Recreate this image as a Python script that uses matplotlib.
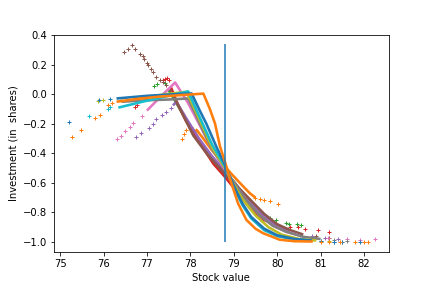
import matplotlib
matplotlib.use("Agg")
import matplotlib.pyplot as plt

# ---------------------------------------------------------------------------
# values, one small set of lists per series
# *_line  = dense part of the curve (looks like a thick line)
# *_dots  = the sparse scattered points on the tails
# ---------------------------------------------------------------------------

# orange, second series (bump at 78 then flattening near -0.72)
orange2_dots_x = [77.80, 77.85, 77.91, 77.99, 78.07, 78.14, 79.50, 79.60, 79.70, 79.83, 80.02]
orange2_dots_y = [-0.30, -0.27, -0.24, -0.23, -0.235, -0.24, -0.70, -0.71, -0.715, -0.72, -0.74]
orange2_line_x = [78.14, 78.30, 78.50, 78.68, 78.80, 78.95, 79.14, 79.37, 79.50]
orange2_line_y = [-0.24, -0.30, -0.38, -0.445, -0.49, -0.54, -0.60, -0.67, -0.70]

# green
green_dots_x = [77.17, 77.24, 77.42, 79.67, 79.83, 79.98, 80.20, 80.28, 80.45, 80.55]
green_dots_y = [0.055, 0.07, 0.08, -0.83, -0.84, -0.85, -0.87, -0.875, -0.88, -0.885]
green_line_x = [77.50, 77.70, 78.00, 78.30, 78.60, 78.80, 79.00, 79.20, 79.45, 79.60]
green_line_y = [0.03, -0.07, -0.22, -0.35, -0.46, -0.53, -0.59, -0.67, -0.78, -0.82]

# red
red_dots_x = [76.73, 76.78, 77.38, 77.42, 77.47, 77.50, 80.30, 80.48, 80.64, 80.94, 81.20]
red_dots_y = [-0.085, -0.07, 0.10, 0.107, 0.11, 0.10, -0.90, -0.90, -0.91, -0.92, -0.93]
red_line_x = [77.55, 77.70, 77.90, 78.22, 78.53, 78.80, 79.10, 79.40, 79.68, 80.06]
red_line_y = [0.05, -0.06, -0.18, -0.33, -0.47, -0.56, -0.67, -0.78, -0.85, -0.89]

# purple
purple_dots_x = [76.75, 76.86, 77.05, 77.15, 77.22, 77.35, 77.45, 77.55,
                 80.52, 80.80, 81.10, 81.40]
purple_dots_y = [-0.29, -0.26, -0.23, -0.20, -0.17, -0.14, -0.12, -0.09,
                 -0.95, -0.96, -0.97, -0.98]
purple_line_x = [77.60, 77.68, 77.90, 78.20, 78.50, 78.80, 79.10, 79.40, 79.70, 80.00, 80.30]
purple_line_y = [-0.075, -0.05, -0.16, -0.30, -0.42, -0.52, -0.63, -0.74, -0.83, -0.89, -0.93]

# brown
brown_dots_x = [76.48, 76.57, 76.66, 76.73, 76.84, 76.90, 76.94, 77.00, 77.02, 77.10,
                77.15, 77.22, 77.30, 77.38, 77.45, 77.52, 80.90, 81.20]
brown_dots_y = [0.29, 0.31, 0.337, 0.31, 0.276, 0.26, 0.24, 0.215, 0.20, 0.175,
                0.15, 0.12, 0.10, 0.085, 0.06, 0.03, -0.96, -0.97]
brown_line_x = [77.60, 77.68, 78.07, 78.40, 78.80, 79.10, 79.40, 79.70, 80.00, 80.30, 80.60]
brown_line_y = [0.00, -0.05, -0.28, -0.41, -0.54, -0.63, -0.72, -0.81, -0.88, -0.92, -0.95]

# pink
pink_dots_x = [76.32, 76.40, 76.50, 76.60, 76.69, 76.88, 80.82, 81.17, 81.60, 81.90, 82.25]
pink_dots_y = [-0.30, -0.28, -0.25, -0.22, -0.197, -0.15, -0.97, -0.97, -0.98, -0.99, -0.98]
pink_line_x = [77.00, 77.30, 77.65, 77.95, 78.20, 78.50, 78.80, 79.00, 79.30, 79.60, 79.90, 80.20, 80.50]
pink_line_y = [-0.11, -0.02, 0.08, -0.06, -0.20, -0.37, -0.51, -0.60, -0.72, -0.82, -0.89, -0.93, -0.955]

# gray
gray_dots_x = [81.30, 81.60]
gray_dots_y = [-0.99, -0.995]
gray_line_x = [76.42, 77.00, 77.50, 77.95, 78.10, 78.30, 78.50, 78.80, 79.00, 79.30, 79.60, 79.90, 80.20, 80.60, 81.00]
gray_line_y = [-0.05, -0.04, -0.035, -0.028, -0.12, -0.25, -0.37, -0.50, -0.60, -0.72, -0.82, -0.89, -0.93, -0.965, -0.98]

# olive
olive_dots_x = [75.87, 75.98, 76.40, 81.20, 81.50]
olive_dots_y = [-0.046, -0.04, -0.035, -0.995, -1.0]
olive_line_x = [76.84, 77.40, 77.91, 78.10, 78.30, 78.50, 78.80, 79.00, 79.20, 79.50, 79.80, 80.10, 80.50, 80.90]
olive_line_y = [-0.028, 0.0, 0.017, -0.10, -0.23, -0.36, -0.50, -0.61, -0.71, -0.82, -0.90, -0.95, -0.98, -0.99]

# cyan
cyan_dots_x = [75.67, 76.10, 76.15, 81.00, 81.30]
cyan_dots_y = [-0.15, -0.10, -0.085, -0.995, -1.0]
cyan_line_x = [76.34, 76.90, 77.50, 77.95, 78.10, 78.30, 78.50, 78.80, 79.00, 79.20, 79.40, 79.70, 80.00, 80.40, 80.70]
cyan_line_y = [-0.09, -0.05, -0.01, 0.02, -0.08, -0.21, -0.34, -0.49, -0.63, -0.75, -0.84, -0.92, -0.96, -0.985, -0.99]

# blue
blue_dots_x = [75.21, 75.90, 76.16, 81.00, 81.30, 81.50, 81.90]
blue_dots_y = [-0.19, -0.04, -0.03, -0.995, -1.0, -1.0, -1.0]
blue_line_x = [76.30, 77.00, 77.60, 78.03, 78.20, 78.37, 78.60, 78.80, 79.00, 79.20, 79.40, 79.70, 80.00, 80.40, 80.80]
blue_line_y = [-0.028, -0.01, 0.0, 0.006, -0.10, -0.20, -0.355, -0.48, -0.62, -0.74, -0.83, -0.91, -0.955, -0.98, -0.99]

# orange, steepest series
orange_dots_x = [75.27, 75.48, 75.80, 75.92, 76.10, 76.20, 81.00, 81.20, 81.44, 81.80, 82.00, 82.10]
orange_dots_y = [-0.29, -0.24, -0.16, -0.14, -0.07, -0.06, -1.0, -1.0, -1.0, -1.0, -1.0, -1.0]
orange_line_x = [76.30, 76.80, 77.30, 77.80, 78.30, 78.45, 78.57, 78.68, 78.80, 78.91, 79.10,
                 79.29, 79.50, 79.67, 80.06, 80.40, 80.82]
orange_line_y = [-0.05, -0.03, -0.015, -0.005, 0.005, -0.10, -0.20, -0.35, -0.46, -0.57, -0.74,
                 -0.85, -0.91, -0.94, -0.985, -0.995, -0.997]

# vertical marker
vline_x = 78.8
vline_lo = -1.0
vline_hi = 0.34

series = [
    ("C1", orange2_line_x, orange2_line_y, orange2_dots_x, orange2_dots_y),
    ("C2", green_line_x, green_line_y, green_dots_x, green_dots_y),
    ("C3", red_line_x, red_line_y, red_dots_x, red_dots_y),
    ("C4", purple_line_x, purple_line_y, purple_dots_x, purple_dots_y),
    ("C5", brown_line_x, brown_line_y, brown_dots_x, brown_dots_y),
    ("C6", pink_line_x, pink_line_y, pink_dots_x, pink_dots_y),
    ("C7", gray_line_x, gray_line_y, gray_dots_x, gray_dots_y),
    ("C8", olive_line_x, olive_line_y, olive_dots_x, olive_dots_y),
    ("C9", cyan_line_x, cyan_line_y, cyan_dots_x, cyan_dots_y),
    ("C0", blue_line_x, blue_line_y, blue_dots_x, blue_dots_y),
    ("C1", orange_line_x, orange_line_y, orange_dots_x, orange_dots_y),
]

fig, ax = plt.subplots(figsize=(6, 4), dpi=72)
fig.subplots_adjust(bottom=0.125)

for col, lx, ly, dx, dy in series:
    ax.plot(lx, ly, '-', color=col, lw=2.6, solid_capstyle='butt')
    ax.plot(dx, dy, '+', color=col, ms=3.5, mew=1, ls='none')

ax.vlines(vline_x, vline_lo, vline_hi, colors='C0', lw=1.5)

ax.set_xlim(74.86, 82.57)
ax.set_ylim(-1.068, 0.405)
ax.set_xlabel('Stock value')
ax.set_ylabel('Investment (in  shares)')

fig.savefig('out.png', dpi=72)
